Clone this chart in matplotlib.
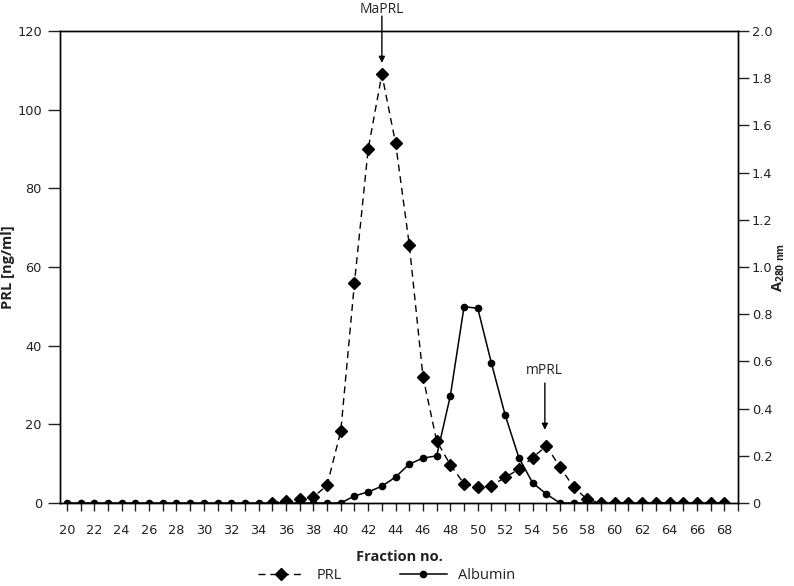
"""Gel filtration profile: PRL immunoreactivity vs albumin absorbance."""

import numpy as np
import matplotlib
matplotlib.use("Agg")
import matplotlib.pyplot as plt
from matplotlib.ticker import MultipleLocator, FuncFormatter

plt.rcParams["font.family"] = ["Open Sans", "DejaVu Sans"]

prl_fraction = list(range(35, 69))
prl_ng_ml = [0, 0.5, 1, 1.5, 4.5, 18.3, 56, 90, 109, 91.5, 65.7, 32.1, 15.8, 9.7,
             4.9, 4.0, 4.4, 6.5, 8.6, 11.5, 14.5, 9.2, 4.0, 0.9,
             0, 0, 0, 0, 0, 0, 0, 0, 0, 0]

alb_fraction = list(range(20, 69))
alb_a280 = [0] * 21 + [0.03, 0.047, 0.071, 0.11, 0.165, 0.19, 0.20, 0.455, 0.832,
                       0.825, 0.592, 0.373, 0.192, 0.086, 0.038] + [0] * 13

x_ticks = list(range(20, 69, 2))
prl_ticks = [0, 20, 40, 60, 80, 100, 120]
a280_ticks = [0, 0.2, 0.4, 0.6, 0.8, 1.0, 1.2, 1.4, 1.6, 1.8, 2.0]

TXT = "#222222"
TICKFONT = {"family": "DejaVu Sans", "size": 9.3}

fig = plt.figure(figsize=(7.94, 5.86), dpi=100)
ax = fig.add_axes([60 / 794, 1 - 503 / 586, 678 / 794, 472 / 586])
ax2 = ax.twinx()

ax.plot(prl_fraction, prl_ng_ml, color="black", lw=1.0, ls=(0, (5, 3.5)),
        marker="D", ms=6, label="PRL", zorder=3)
ax2.plot(alb_fraction, alb_a280, color="black", lw=1.1, ls="-",
         marker="o", ms=4.5, label="Albumin", zorder=2)

ax.set_xlim(19.5, 69)
ax.set_ylim(0, 120)
ax2.set_ylim(0, 2.0)

ax.set_xticks(x_ticks)
ax.xaxis.set_minor_locator(MultipleLocator(1))
ax.set_yticks(prl_ticks)
ax2.set_yticks(a280_ticks)
ax2.yaxis.set_major_formatter(FuncFormatter(lambda v, p: "0" if v == 0 else f"{v:.1f}"))

ax.tick_params(axis="x", which="both", direction="out", length=6, width=1,
               colors=TXT, pad=9)
ax.tick_params(axis="y", direction="out", length=9, width=1, colors=TXT, pad=4)
ax2.tick_params(axis="y", direction="out", length=8, width=1, colors=TXT, pad=2)
for lab in ax.get_xticklabels() + ax.get_yticklabels() + ax2.get_yticklabels():
    lab.set_fontproperties(TICKFONT)

for a in (ax, ax2):
    for s in a.spines.values():
        s.set_linewidth(1.0)
        s.set_color("black")

ax.set_xlabel("Fraction no.", fontsize=10.5, fontweight="bold", color=TXT)
ax.xaxis.set_label_coords(0.5, -0.100)
ax.set_ylabel("PRL [ng/ml]", fontsize=10.5, fontweight="bold", color=TXT)
ax.yaxis.set_label_coords(-0.067, 0.5)
ax2.set_ylabel(r"A$_{\mathregular{280\ nm}}$", fontsize=10.5, fontweight="bold",
               color=TXT)
ax2.yaxis.set_label_coords(1.048, 0.5)

# peak labels with arrows
ax.text(43, 125.5, "MaPRL", ha="center", va="center", fontsize=10, color=TXT,
        clip_on=False)
ax.annotate("", xy=(43, 111.9), xytext=(43, 123.8), annotation_clip=False,
            arrowprops=dict(arrowstyle="-|>", color="black", lw=1.0,
                            mutation_scale=9, shrinkA=0, shrinkB=0))
ax.text(54.9, 33.6, "mPRL", ha="center", va="center", fontsize=10, color=TXT)
ax.annotate("", xy=(54.9, 18.6), xytext=(54.9, 30.5),
            arrowprops=dict(arrowstyle="-|>", color="black", lw=1.0,
                            mutation_scale=9, shrinkA=0, shrinkB=0))

h1, l1 = ax.get_legend_handles_labels()
h2, l2 = ax2.get_legend_handles_labels()
fig.legend(h1 + h2, l1 + l2, loc="center", bbox_to_anchor=(0.487, 0.018), ncol=2,
           frameon=False, fontsize=10.5, columnspacing=4, handlelength=3.2,
           labelcolor=TXT)

fig.savefig("out.png", dpi=100)
